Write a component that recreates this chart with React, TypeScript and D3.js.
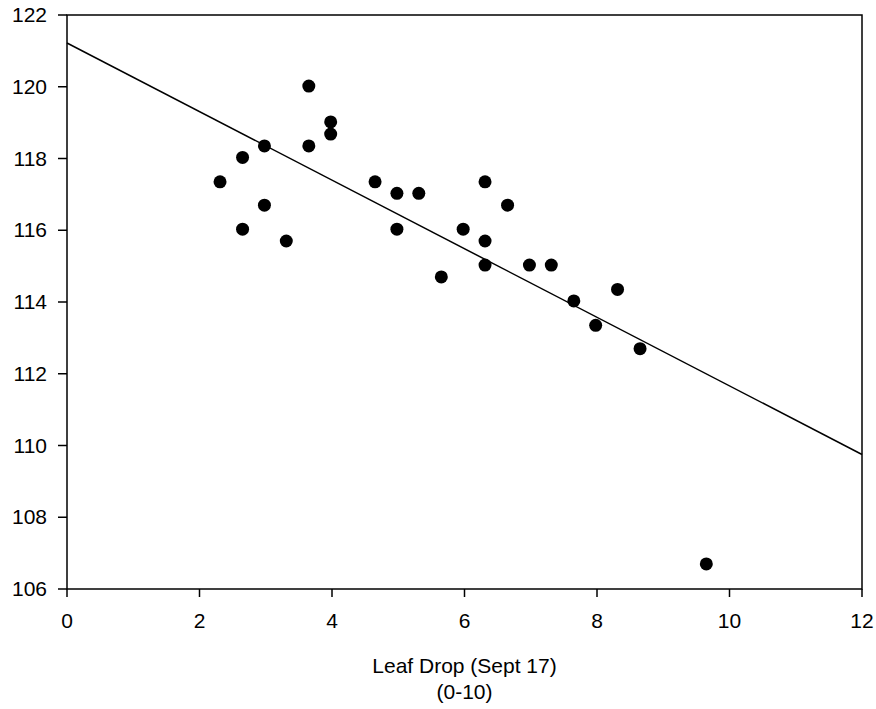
import React from "react";
import * as d3 from "d3";

const leafDrop = [2.31, 2.65, 2.65, 2.98, 2.98, 3.31, 3.65, 3.65, 3.98, 3.98, 4.65, 4.98, 4.98, 5.31, 5.65, 5.98, 6.31, 6.31, 6.31, 6.65, 6.98, 7.31, 7.65, 7.98, 8.31, 8.65, 9.65];
const response = [117.35, 118.03, 116.03, 118.35, 116.7, 115.7, 120.02, 118.35, 119.02, 118.68, 117.35, 117.03, 116.03, 117.03, 114.7, 116.03, 117.35, 115.7, 115.03, 116.7, 115.03, 115.03, 114.03, 113.35, 114.35, 112.7, 106.7];
const fitX = [0, 12];
const fitY = [121.22, 109.75];
const xTicks = [0, 2, 4, 6, 8, 10, 12];
const yTicks = [106, 108, 110, 112, 114, 116, 118, 120, 122];
const xTitle = ["Leaf Drop (Sept 17)", "(0-10)"];

export default function App() {
  const W = 876, H = 709;
  const L = 67, R = 862, T = 15, B = 589;
  const x = d3.scaleLinear().domain([0, 12]).range([L, R]);
  const y = d3.scaleLinear().domain([106, 122]).range([B, T]);
  const font = "Liberation Sans, Arial, sans-serif";
  const line = d3.line<number>().x((d) => x(d)).y((_, i) => y(fitY[i]));
  return (
    <svg width={W} height={H} style={{ position: "absolute", left: 0, top: 0, background: "#fff" }}>
      <rect x={0} y={0} width={W} height={H} fill="#fff" />
      <rect x={L} y={T} width={R - L} height={B - T} fill="none" stroke="#000" strokeWidth={1.5} />
      {yTicks.map((t) => (
        <g key={"y" + t}>
          <line x1={L - 9} x2={L} y1={y(t)} y2={y(t)} stroke="#000" strokeWidth={1.5} />
          <text x={L - 20} y={y(t)} dy="0.34em" textAnchor="end" fontFamily={font} fontSize={21}>{t}</text>
        </g>
      ))}
      {xTicks.map((t) => (
        <g key={"x" + t}>
          <line x1={x(t)} x2={x(t)} y1={B} y2={B + 8} stroke="#000" strokeWidth={1.5} />
          <text x={x(t)} y={B + 39} textAnchor="middle" fontFamily={font} fontSize={21}>{t}</text>
        </g>
      ))}
      <path d={line(fitX) || ""} fill="none" stroke="#000" strokeWidth={1.5} />
      {leafDrop.map((v, i) => (
        <circle key={i} cx={x(v)} cy={y(response[i])} r={6.5} fill="#000" />
      ))}
      <text x={(L + R) / 2} y={673} textAnchor="middle" fontFamily={font} fontSize={21}>{xTitle[0]}</text>
      <text x={(L + R) / 2} y={699} textAnchor="middle" fontFamily={font} fontSize={21}>{xTitle[1]}</text>
    </svg>
  );
}
